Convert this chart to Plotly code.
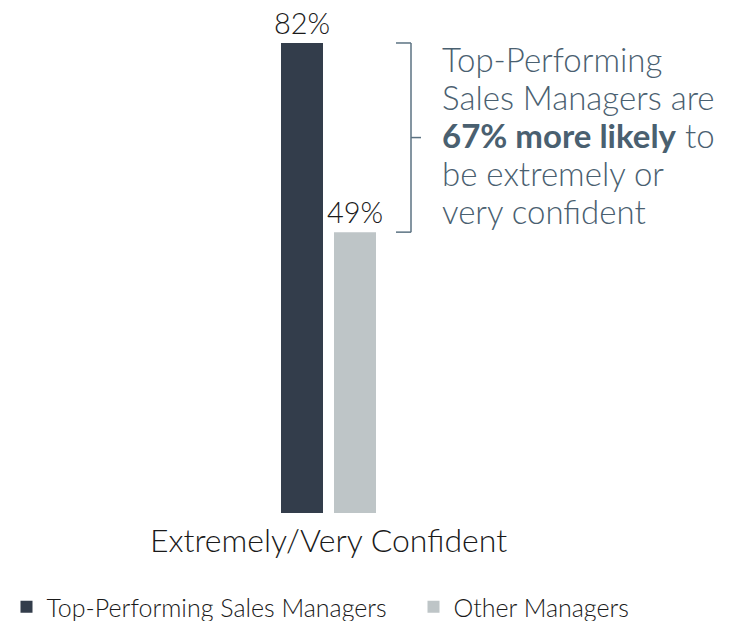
import plotly.graph_objects as go

categories = ["Extremely/Very Confident"]
series_names = ["Top-Performing Sales Managers", "Other Managers"]
top_values = [82]
other_values = [49]
top_labels = ["82%"]
other_labels = ["49%"]
callout_lines = ["Top-Performing", "Sales Managers are",
                 "<b>67% more likely</b> to", "be extremely or", "very confident"]

DARK = "#333d4b"
LIGHT = "#bec5c7"
SLATE = "#4a6070"
FONT = "Lato"

# pixel geometry of the plot area (used only to place the free-floating callout text)
PLOT_TOP, PLOT_H = 0, 513
PLOT_L, PLOT_W = 30, 700
Y_MAX = 89.5


def px_to_y(p):
    return Y_MAX * (PLOT_H - (p - PLOT_TOP)) / PLOT_H


fig = go.Figure()
fig.add_trace(go.Bar(
    x=categories, y=top_values, name=series_names[0],
    marker=dict(color=DARK, line=dict(width=0)),
    width=0.42, offset=-0.475, legendwidth=362,
    text=top_labels, textposition="outside", constraintext="none",
    textfont=dict(size=29, color="#1a1a1a", family=FONT),
    cliponaxis=False, hoverinfo="skip",
))
fig.add_trace(go.Bar(
    x=categories, y=other_values, name=series_names[1],
    marker=dict(color=LIGHT, line=dict(width=0)),
    width=0.42, offset=0.055,
    text=other_labels, textposition="outside", constraintext="none",
    textfont=dict(size=29, color="#1a1a1a", family=FONT),
    cliponaxis=False, hoverinfo="skip",
))

# bracket connecting the two bar tops
hi, lo = top_values[0], other_values[0]
mid = (hi + lo) / 2
bx, bl, br = 0.825, 0.675, 0.925
line = dict(color="#5b7282", width=1.5)
for x0, y0, x1, y1 in [(bx, hi, bx, lo), (bl, hi, bx, hi), (bl, lo, bx, lo), (bx, mid, br, mid)]:
    fig.add_shape(type="line", xref="x", yref="y", x0=x0, y0=y0, x1=x1, y1=y1, line=line)

for i, txt in enumerate(callout_lines):
    fig.add_annotation(
        xref="x", yref="y", x=1.11, y=px_to_y(59 + 38.1 * i),
        xanchor="left", yanchor="middle",
        text=txt, align="left", showarrow=False,
        font=dict(size=33, color=SLATE, family=FONT),
    )

fig.update_layout(
    width=730, height=621,
    margin=dict(l=PLOT_L, r=730 - PLOT_L - PLOT_W, t=PLOT_TOP, b=621 - PLOT_H, autoexpand=False),
    paper_bgcolor="white", plot_bgcolor="white",
    font=dict(family=FONT, color="#1a1a1a", weight=300),
    barmode="group",
    showlegend=True,
    legend=dict(
        orientation="h", xref="paper", yref="paper",
        x=(6.5 - PLOT_L) / PLOT_W, xanchor="left",
        y=(PLOT_H - 607) / PLOT_H, yanchor="middle",
        font=dict(size=25, color="#1a1a1a", family=FONT),
        traceorder="normal",
    ),
    xaxis=dict(
        range=[-2.985, 4.015], showline=False, showgrid=False, zeroline=False,
        ticks="", tickfont=dict(size=32, color="#1a1a1a", family=FONT),
        ticklabelstandoff=6, fixedrange=True,
    ),
    yaxis=dict(range=[0, Y_MAX], visible=False, fixedrange=True),
)

fig.write_html("out.html", config={"displayModeBar": False},
               post_script="document.body.style.margin='0px';")
